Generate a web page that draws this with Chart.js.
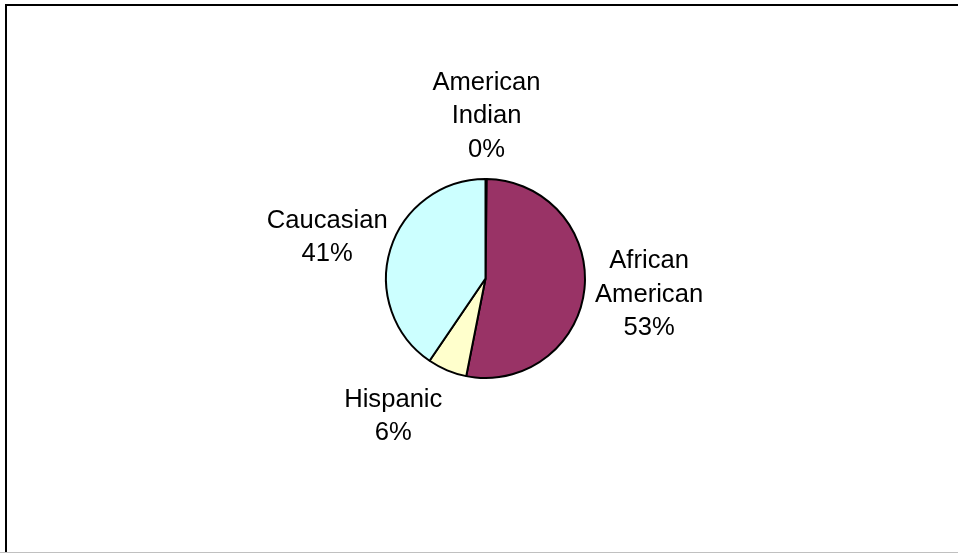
<!DOCTYPE html>
<html>
<head>
<meta charset="utf-8">
<script src="https://cdn.jsdelivr.net/npm/chart.js@4.4.1/dist/chart.umd.min.js"></script>
<style>
  html, body { margin: 0; padding: 0; background: #ffffff; }
  #wrap { width: 958px; height: 554px; }
</style>
</head>
<body>
<div id="wrap"><canvas id="myChart" width="958" height="554"></canvas></div>
<script>
const categories = ['American Indian', 'African American', 'Hispanic', 'Caucasian'];
const shares = [0.2, 52.9, 6.4, 40.5];
const sliceColors = ['#9999FF', '#993366', '#FFFFCC', '#CCFFFF'];

const labelFont = '25.6px "Liberation Sans", Arial, sans-serif';
const labelLineHeight = 33.5;
const capHeight = 18.3;
// label distance from centre, as a factor of the radius, and a small angle nudge (degrees)
const labelDist = 1.65;
const labelNudge = [0, -1, 11.5, -1.8];

const framePlugin = {
  id: 'frame',
  beforeDraw(chart) {
    const ctx = chart.ctx;
    ctx.save();
    ctx.fillStyle = '#ffffff';
    ctx.fillRect(0, 0, chart.width, chart.height);
    ctx.fillStyle = '#000000';
    ctx.fillRect(5, 4, chart.width - 5, 2);   // top
    ctx.fillRect(5, 4, 2, 548);               // left
    ctx.fillStyle = '#c0c0c0';
    ctx.fillRect(0, 552, chart.width, 1);     // bottom
    ctx.restore();
  }
};

const sliceLabels = {
  id: 'sliceLabels',
  afterDraw(chart) {
    const ctx = chart.ctx;
    const meta = chart.getDatasetMeta(0);
    const values = chart.data.datasets[0].data;
    const total = values.reduce((a, b) => a + b, 0);
    ctx.save();
    ctx.font = labelFont;
    ctx.fillStyle = '#000000';
    ctx.textAlign = 'center';
    ctx.textBaseline = 'alphabetic';
    meta.data.forEach((arc, i) => {
      const p = arc.getProps(['x', 'y', 'startAngle', 'endAngle', 'outerRadius'], true);
      const mid = (p.startAngle + p.endAngle) / 2 + labelNudge[i] * Math.PI / 180;
      const r = p.outerRadius * labelDist;
      const cx = p.x + Math.cos(mid) * r;
      const cy = p.y + Math.sin(mid) * r;
      const lines = chart.data.labels[i].split(' ');
      lines.push(Math.round(values[i] / total * 100) + '%');
      const n = lines.length;
      const first = cy + capHeight / 2 - (n - 1) * labelLineHeight / 2;
      lines.forEach((t, k) => ctx.fillText(t, cx, first + k * labelLineHeight));
    });
    ctx.restore();
  }
};

const config = {
  type: 'pie',
  data: {
    labels: categories,
    datasets: [{
      data: shares,
      backgroundColor: sliceColors,
      borderColor: '#000000',
      borderWidth: 2,
    }]
  },
  options: {
    responsive: false,
    animation: false,
    radius: 99.5,
    layout: { padding: { left: 13, right: 0, top: 3, bottom: 0 } },
    plugins: {
      legend: { display: false },
      tooltip: { enabled: false },
    }
  },
  plugins: [framePlugin, sliceLabels]
};

const ctx = document.getElementById('myChart').getContext('2d');
const myChart = new Chart(ctx, config);
</script>
</body>
</html>
